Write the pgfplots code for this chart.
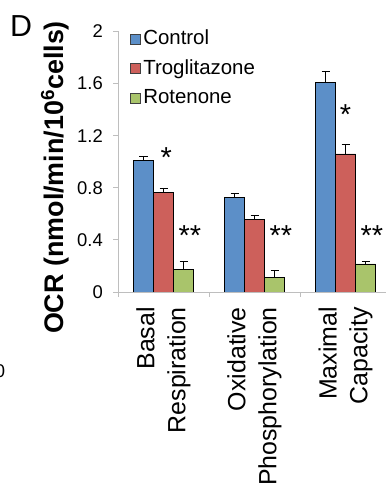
\documentclass[border=0pt]{standalone}
\usepackage{fontspec}
\setmainfont{Liberation Sans}
\usepackage{pgfplots}
\pgfplotsset{compat=1.18}
\definecolor{cblue}{RGB}{92,143,200}
\definecolor{cred}{RGB}{205,96,91}
\definecolor{cgreen}{RGB}{169,196,107}
\definecolor{axgray}{RGB}{190,190,190}
\pgfplotsset{
  errstyle/.style={error bars/.cd, y dir=plus, y explicit,
    error bar style={black, line width=0.7bp},
    error mark options={rotate=90, mark size=4bp, black, line width=0.7bp}},
}
\begin{document}
\begin{tikzpicture}
\useasboundingbox (0,0) rectangle (386bp,502bp);
\begin{axis}[
  at={(118bp,210bp)}, anchor=south west,
  scale only axis, width=273bp, height=260.5bp,
  xmin=-0.5, xmax=2.5, ymin=0, ymax=2,
  axis x line*=bottom, axis y line*=left,
  axis line style={axgray, line width=0.8bp, -},
  ybar=0pt, bar width=20bp,
  ytick={0,0.4,0.8,1.2,1.6,2},
  yticklabels={0,0.4,0.8,1.2,1.6,2},
  xtick={0,1,2},
  xticklabels={Basal\\Respiration, Oxidative\\Phosphorylation, Maximal\\Capacity},
  minor xtick={-0.5,0.5,1.5,2.5},
  tick align=outside, major tick length=5bp, minor tick length=5bp,
  major x tick style={draw=none},
  tick style={axgray, line width=0.8bp},
  /pgf/number format/assume math mode=true,
  yticklabel style={font=\fontsize{18.5}{20}\selectfont, inner sep=0pt, anchor=east, xshift=-10bp},
  xticklabel style={yshift=-10bp, font=\fontsize{25}{31}\selectfont, rotate=90, anchor=east, align=right, inner sep=0pt},
  legend style={at={(12bp,265bp)}, anchor=north west, draw=none, fill=none,
    font=\fontsize{20.5}{22}\selectfont, row sep=5.5bp, inner sep=0pt,
    nodes={inner sep=2.5bp, text height=15bp, text depth=4bp},
    cells={anchor=west}},
  legend image code/.code={\draw[#1, draw=black!75, line width=0.6bp] (0bp,-5bp) rectangle (10bp,5bp);},
]
\addplot[fill=cblue, draw=black, line width=0.6bp, errstyle] coordinates {
  (0,1.01) +- (0,0.03)
  (1,0.727) +- (0,0.03)
  (2,1.61) +- (0,0.085)
};
\addlegendentry{Control}
\addplot[fill=cred, draw=black, line width=0.6bp, errstyle] coordinates {
  (0,0.764) +- (0,0.035)
  (1,0.555) +- (0,0.035)
  (2,1.06) +- (0,0.07)
};
\addlegendentry{Troglitazone}
\addplot[fill=cgreen, draw=black, line width=0.6bp, errstyle] coordinates {
  (0,0.175) +- (0,0.06)
  (1,0.112) +- (0,0.055)
  (2,0.215) +- (0,0.02)
};
\addlegendentry{Rotenone}
\node[anchor=base, font=\fontsize{29}{29}\selectfont, inner sep=0pt] at (axis cs:0.03,0.955) {*};
\node[anchor=base, font=\fontsize{29}{29}\selectfont, inner sep=0pt] at (axis cs:0.29,0.36) {**};
\node[anchor=base, font=\fontsize{29}{29}\selectfont, inner sep=0pt] at (axis cs:1.29,0.36) {**};
\node[anchor=base, font=\fontsize{29}{29}\selectfont, inner sep=0pt] at (axis cs:2.0,1.285) {*};
\node[anchor=base, font=\fontsize{29}{29}\selectfont, inner sep=0pt] at (axis cs:2.29,0.36) {**};
\end{axis}
\node[rotate=90, anchor=base, inner sep=0pt, font=\fontsize{27}{27}\selectfont\bfseries] at (63bp,324.5bp) {OCR (nmol/min/10\textsuperscript{6}cells)};
\node[anchor=base west, inner sep=0pt, font=\fontsize{30.5}{30.5}\selectfont] at (10bp,465bp) {D};
\node[anchor=base, inner sep=0pt, font=\fontsize{18.5}{20}\selectfont] at (0bp,124bp) {0};
\end{tikzpicture}
\end{document}
